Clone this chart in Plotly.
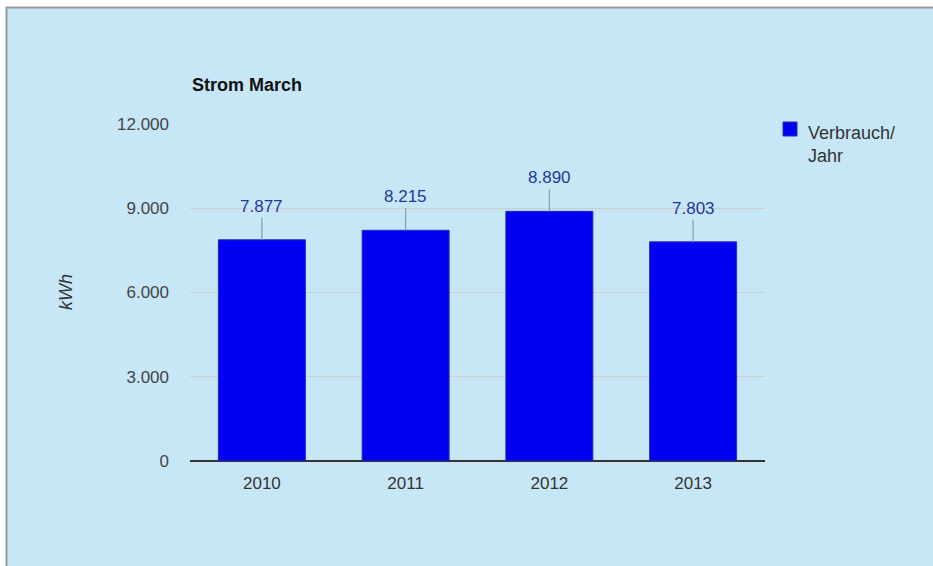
import plotly.graph_objects as go

# Annual electricity consumption
years = ["2010", "2011", "2012", "2013"]
consumption_kwh = [7877, 8215, 8890, 7803]
y_ticks = [0, 3000, 6000, 9000, 12000]
series_name = "Verbrauch/<br>Jahr"

BG = "#c7e7f7"
BAR = "#0000f5"
FONT = "Arial, Liberation Sans, sans-serif"

W, H = 933, 566
L, R, T, B = 190, 168, 124, 105
pw, ph = W - L - R, H - T - B


def px_x(px):
    return (px - L) / pw


def px_y(py):
    return (H - B - py) / ph


def de_num(v):
    return f"{v:,}".replace(",", ".")


fig = go.Figure()
fig.add_trace(go.Bar(
    x=years, y=consumption_kwh, name=series_name, showlegend=False,
    marker=dict(color=BAR, line=dict(color="#2a2ab0", width=1)),
    width=0.605, hoverinfo="skip",
))

# Value labels with stems above each bar (category index positions)
for i, v in enumerate(consumption_kwh):
    fig.add_annotation(
        x=i, y=v, xref="x", yref="y", text=de_num(v),
        showarrow=True, arrowhead=0, arrowwidth=1.2, arrowcolor="#8f9aa3",
        ax=0, ay=-22, yanchor="bottom",
        font=dict(family=FONT, size=17, color="#27359a"),
    )

# Framed background panel
fig.add_shape(type="rect", xref="paper", yref="paper", layer="below",
              x0=px_x(6.5), x1=px_x(W + 20), y0=px_y(H + 20), y1=px_y(7.5),
              fillcolor=BG, line=dict(color="#9a9a9a", width=2))

# Legend: swatch plus wrapped series name
fig.add_shape(type="rect", xref="paper", yref="paper",
              x0=px_x(783), x1=px_x(797), y0=px_y(136), y1=px_y(122),
              fillcolor=BAR, line=dict(color="#2a2ab0", width=1))
fig.add_annotation(text=series_name, xref="paper", yref="paper",
                   x=px_x(806), y=px_y(121), xanchor="left", yanchor="top",
                   align="left", showarrow=False,
                   font=dict(family=FONT, size=18, color="#333333"))

fig.add_annotation(text="<b>Strom March</b>", xref="paper", yref="paper",
                   x=0, y=px_y(85), xanchor="left", yanchor="middle",
                   showarrow=False, font=dict(family=FONT, size=18, color="#111111"))
fig.add_annotation(text="<i>kWh</i>", xref="paper", yref="paper",
                   x=px_x(66), y=px_y(292), textangle=-90, showarrow=False,
                   xanchor="center", yanchor="middle",
                   font=dict(family=FONT, size=18, color="#333333"))

fig.update_layout(
    width=W, height=H,
    margin=dict(l=L, r=R, t=T, b=B),
    paper_bgcolor="white", plot_bgcolor="rgba(0,0,0,0)",
    separators=",.",
    font=dict(family=FONT, size=17, color="#444444"),
    showlegend=False,
    xaxis=dict(type="category", range=[-0.5, 3.5], showgrid=False, showline=False, ticks="",
               tickfont=dict(family=FONT, size=17, color="#333333"),
               ticklabelstandoff=10),
    yaxis=dict(range=[0, 12000], tickvals=y_ticks, tickformat=",d",
               showgrid=True, gridcolor="#c9d0d4", gridwidth=1,
               zeroline=True, zerolinecolor="#333333", zerolinewidth=2,
               showline=False, ticks="", ticklabelstandoff=20,
               tickfont=dict(family=FONT, size=17, color="#444444")),
)

fig.write_html("out.html")
